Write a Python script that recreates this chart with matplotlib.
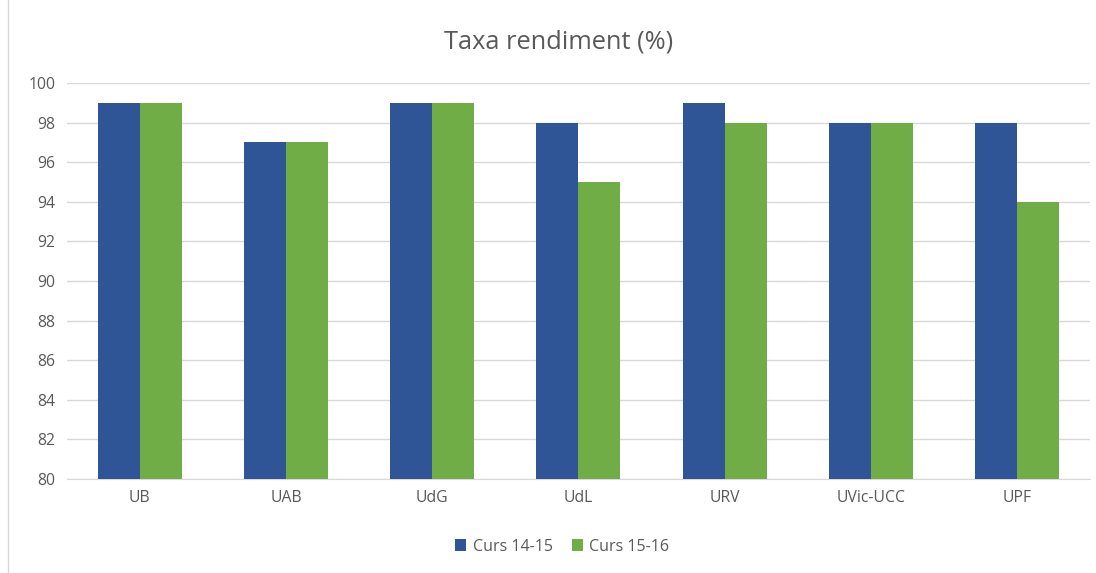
import numpy as np
import matplotlib.pyplot as plt
from matplotlib.patches import Rectangle

# Dades
universitats = ['UB', 'UAB', 'UdG', 'UdL', 'URV', 'UVic-UCC', 'UPF']
curs_14_15 = [99, 97, 99, 98, 99, 98, 98]
curs_15_16 = [99, 97, 99, 95, 98, 98, 94]

blau = '#2F5597'
verd = '#70AD47'
gris_text = '#595959'

plt.rcParams['font.family'] = ['Open Sans', 'DejaVu Sans']

fig = plt.figure(figsize=(10.96, 5.73), dpi=100)
ax = fig.add_axes([0.061, 0.164, 0.9335, 0.691])

x = np.arange(len(universitats))
amplada = 0.287
ax.bar(x - amplada / 2, curs_14_15, amplada, color=blau, label='Curs 14-15', zorder=3)
ax.bar(x + amplada / 2, curs_15_16, amplada, color=verd, label='Curs 15-16', zorder=3)

ax.set_xlim(-0.5, len(universitats) - 0.5)
ax.set_ylim(80, 100)
ax.set_yticks(range(80, 101, 2))
ax.set_xticks(x)
ax.set_xticklabels(universitats)
ax.tick_params(axis='both', length=0, labelsize=11.3, colors=gris_text, pad=8)
ax.grid(axis='y', color='#D9D9D9', linewidth=1, zorder=0)
for s in ['top', 'right', 'left']:
    ax.spines[s].set_visible(False)
ax.spines['bottom'].set_color('#D9D9D9')

fig.text(0.5096, 0.927, 'Taxa rendiment (%)', ha='center', va='center',
         fontsize=18.3, color=gris_text)

fig.legend(loc='center', bbox_to_anchor=(0.513, 0.046), ncol=2, frameon=False,
           fontsize=11.5, labelcolor=gris_text, handlelength=0.7, handleheight=0.7,
           columnspacing=1.2, handletextpad=0.4)

# vora del gràfic
fig.patches.append(Rectangle((0.007, -0.01), 1.1, 1.1, transform=fig.transFigure,
                             fill=False, edgecolor='#D9D9D9', linewidth=1))

fig.savefig('out.png', dpi=100)
